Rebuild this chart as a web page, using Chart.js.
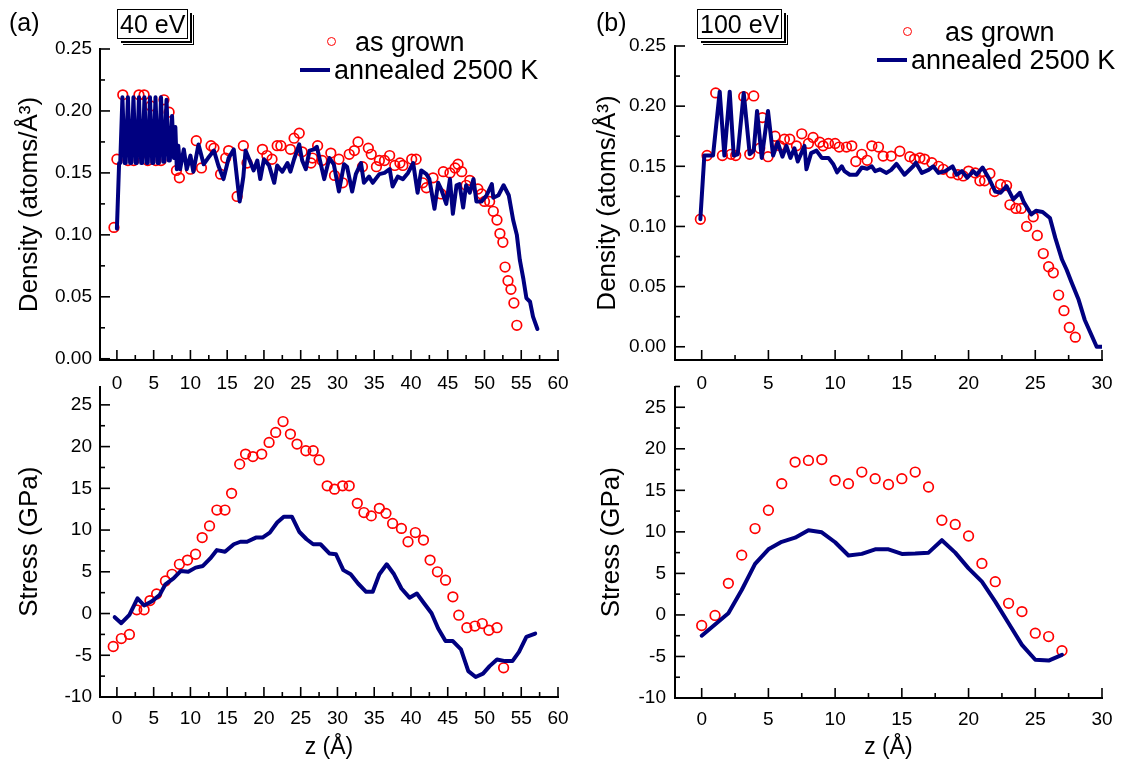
<!DOCTYPE html>
<html><head><meta charset="utf-8">
<script src="https://cdn.jsdelivr.net/npm/chart.js@4.4.1/dist/chart.umd.min.js"></script>
<style>
body{margin:0;background:#fff;width:1125px;height:766px;position:relative;overflow:hidden;font-family:"Liberation Sans",Arial,sans-serif;color:#000;}
canvas{position:absolute;}
.t{position:absolute;white-space:nowrap;line-height:1;}
.box{position:absolute;border:1.5px solid #000;background:#fff;font-size:25px;line-height:28px;padding:0 2px;box-shadow:2px 2px 0 #fff,4px 4px 0 #000,5px 5px 0 #fff,6px 6px 0 #000;}
.circ{position:absolute;width:7px;height:7px;border:1.7px solid #ff0000;border-radius:50%;}
.ln{position:absolute;height:4px;background:#000080;}
</style></head><body>
<canvas id="cA1" width="590" height="395" style="left:0;top:0"></canvas>
<canvas id="cA2" width="590" height="386" style="left:0;top:380px"></canvas>
<canvas id="cB1" width="545" height="395" style="left:580px;top:0"></canvas>
<canvas id="cB2" width="545" height="386" style="left:580px;top:380px"></canvas>

<div class="t" style="left:9px;top:10px;font-size:25px">(a)</div>
<div class="box" style="left:117px;top:9px">40 eV</div>
<div class="circ" style="left:327px;top:37px"></div>
<div class="t" style="left:355px;top:29px;font-size:27px">as grown</div>
<div class="ln" style="left:300px;top:68px;width:30px"></div>
<div class="t" style="left:334px;top:57px;font-size:27px">annealed 2500 K</div>

<div class="t" style="left:596px;top:10px;font-size:25px">(b)</div>
<div class="box" style="left:697px;top:9px">100 eV</div>
<div class="circ" style="left:903px;top:27px"></div>
<div class="t" style="left:945px;top:19px;font-size:27px">as grown</div>
<div class="ln" style="left:877px;top:58px;width:30px"></div>
<div class="t" style="left:911px;top:47px;font-size:27px">annealed 2500 K</div>

<script>
// ---------- tick labels ----------
const xTicksA = [0,5,10,15,20,25,30,35,40,45,50,55,60];
const xTicksB = [0,5,10,15,20,25,30];
const densTicks = [0,0.05,0.10,0.15,0.20,0.25];
const stressTicks = [-10,-5,0,5,10,15,20,25];

// ---------- (a) 40 eV density ----------
const aDensGrownZ = [-0.4,0.0,0.8,1.5,2.3,3.0,3.7,4.2,4.6,5.3,6.0,6.4,7.1,8.1,8.5,10.0,10.8,11.5,12.8,13.2,14.1,14.8,15.2,16.35,17.2,17.7,19.8,20.4,21.1,21.8,22.3,23.6,24.1,24.8,25.2,26.4,26.6,27.3,27.9,29.1,29.6,30.2,30.7,31.6,32.3,32.8,33.4,34.2,34.6,35.3,35.7,36.4,37.1,37.8,38.5,38.9,40.1,40.7,41.6,42.1,43.0,44.1,44.4,45.3,46.0,46.4,46.9,47.5,48.0,49.1,49.6,50.0,50.7,51.2,51.7,52.1,52.5,52.8,53.2,53.6,54.0,54.4];
const aDensGrown = [0.106,0.161,0.213,0.160,0.160,0.213,0.213,0.160,0.204,0.160,0.160,0.209,0.199,0.152,0.146,0.153,0.176,0.154,0.172,0.170,0.149,0.162,0.168,0.131,0.172,0.158,0.169,0.164,0.161,0.172,0.172,0.169,0.178,0.182,0.167,0.158,0.162,0.172,0.160,0.166,0.148,0.161,0.142,0.165,0.168,0.175,0.155,0.170,0.165,0.155,0.160,0.160,0.164,0.156,0.158,0.156,0.161,0.161,0.142,0.138,0.146,0.133,0.151,0.150,0.154,0.157,0.151,0.140,0.144,0.137,0.133,0.127,0.127,0.119,0.112,0.101,0.094,0.074,0.063,0.056,0.045,0.027];
const aDensAnnZ = [0,0.3,0.45,0.75,1.05,1.2,1.5,1.8,1.95,2.25,2.55,2.7,3.0,3.3,3.45,3.75,4.05,4.2,4.5,4.8,4.95,5.25,5.55,5.7,6.0,6.3,6.45,6.75,7.05,7.2,7.5,7.75,7.95,8.15,8.35,8.6,9.1,9.5,10.0,10.4,11.1,11.8,12.4,13.2,13.8,14.5,15.2,15.9,16.35,16.7,17.2,17.5,18.2,18.6,19.1,19.5,20.0,20.7,21.4,21.8,22.5,23.2,23.6,24.1,24.8,25.2,25.7,26.2,26.8,27.2,28.2,28.9,29.5,30.2,30.9,31.3,32.0,32.5,33.2,33.6,34.3,34.8,35.7,36.4,37.1,37.5,38.2,38.9,39.6,40.3,40.9,41.4,42.1,42.5,43.2,43.7,44.1,44.8,45.3,45.7,46.2,46.6,47.1,47.5,48.0,48.5,48.9,49.6,50.3,51.0,51.2,51.9,52.6,53.3,53.9,54.4,54.8,55.3,55.7,56.2,56.6,57.2];
const aDensAnn = [0.105,0.158,0.158,0.211,0.158,0.158,0.211,0.158,0.158,0.211,0.158,0.158,0.211,0.158,0.158,0.211,0.158,0.158,0.211,0.158,0.158,0.211,0.158,0.158,0.211,0.159,0.159,0.209,0.160,0.160,0.196,0.162,0.187,0.153,0.172,0.153,0.169,0.153,0.164,0.151,0.173,0.157,0.162,0.168,0.156,0.145,0.162,0.169,0.145,0.127,0.147,0.168,0.158,0.152,0.160,0.145,0.161,0.156,0.142,0.156,0.151,0.158,0.151,0.161,0.173,0.160,0.153,0.168,0.169,0.171,0.145,0.162,0.157,0.135,0.157,0.155,0.135,0.149,0.158,0.142,0.147,0.142,0.149,0.150,0.153,0.139,0.147,0.145,0.150,0.158,0.134,0.152,0.149,0.145,0.121,0.142,0.137,0.125,0.145,0.117,0.140,0.141,0.122,0.140,0.134,0.145,0.127,0.127,0.132,0.141,0.130,0.132,0.140,0.132,0.112,0.100,0.080,0.064,0.049,0.046,0.034,0.024];

// ---------- (a) 40 eV stress ----------
const aStressGrownZ = [-0.5,0.6,1.7,2.7,3.7,4.5,5.4,6.6,7.5,8.5,9.6,10.7,11.6,12.6,13.6,14.7,15.6,16.7,17.5,18.5,19.7,20.7,21.6,22.6,23.6,24.5,25.7,26.7,27.5,28.6,29.6,30.7,31.6,32.7,33.6,34.6,35.7,36.6,37.5,38.7,39.6,40.6,41.7,42.6,43.6,44.7,45.7,46.5,47.6,48.7,49.7,50.6,51.7,52.6];
const aStressGrown = [-3.95,-3.0,-2.5,0.44,0.44,1.55,2.35,3.9,4.7,5.9,6.4,7.1,9.1,10.5,12.4,12.4,14.4,17.9,19.1,18.8,19.1,20.5,21.7,23.0,21.5,20.3,19.5,19.5,18.4,15.3,14.9,15.3,15.3,13.2,12.1,11.7,12.6,12.0,10.8,10.2,8.6,9.7,8.8,6.4,5.0,4.0,2.0,-0.2,-1.7,-1.5,-1.2,-2.0,-1.7,-6.5];
const aStressAnnZ = [-0.3,0.6,1.7,2.8,3.7,4.7,5.8,6.6,7.7,8.7,9.7,10.7,11.7,12.7,13.6,14.7,15.9,16.8,17.7,18.9,19.8,20.8,21.8,22.7,23.8,24.8,25.8,26.7,27.7,28.9,29.8,30.8,31.8,32.8,33.9,34.8,35.7,36.7,37.7,38.7,39.8,40.8,41.8,42.8,43.7,44.7,45.7,46.8,47.8,48.8,49.8,50.7,51.7,52.8,53.8,54.7,55.7,56.9];
const aStressAnn = [-0.44,-1.16,-0.16,1.83,0.96,1.43,2.2,3.5,4.2,5.1,5.0,5.5,5.7,6.6,7.6,7.4,8.3,8.6,8.6,9.1,9.1,9.7,10.9,11.6,11.6,9.8,8.9,8.3,8.3,7.2,7.1,5.2,4.7,3.6,2.6,2.6,4.7,5.9,4.7,3.0,1.9,2.4,1.2,0.04,-1.8,-3.3,-3.3,-4.3,-6.9,-7.6,-7.2,-6.3,-5.5,-5.7,-5.7,-4.6,-2.8,-2.4];

// ---------- (b) 100 eV density ----------
const bDensGrownZ = [-0.1,0.4,1.05,1.55,2.2,2.55,3.15,3.6,3.9,4.35,4.55,4.97,5.5,5.85,6.2,6.6,7.1,7.5,8.0,8.35,8.85,9.1,9.5,10.0,10.3,10.85,11.25,11.55,12.0,12.4,12.75,13.25,13.6,14.2,14.85,15.6,15.95,16.35,16.7,17.25,17.75,18.1,18.7,19.2,19.6,20.0,20.5,20.85,21.2,21.6,21.95,22.4,22.85,23.1,23.55,23.95,24.35,24.85,25.15,25.6,26.0,26.35,26.75,27.15,27.55,28.0];
const bDensGrown = [0.106,0.159,0.211,0.159,0.160,0.159,0.208,0.160,0.2085,0.165,0.1905,0.158,0.175,0.167,0.1725,0.1725,0.167,0.177,0.169,0.174,0.170,0.167,0.169,0.169,0.166,0.166,0.167,0.154,0.160,0.155,0.167,0.166,0.1585,0.1585,0.1625,0.158,0.156,0.157,0.156,0.153,0.150,0.1475,0.1445,0.143,0.142,0.146,0.1445,0.138,0.138,0.144,0.129,0.135,0.134,0.118,0.115,0.115,0.100,0.108,0.0925,0.0775,0.0665,0.0615,0.043,0.030,0.016,0.008];
const bDensAnnZ = [-0.1,0.2,0.85,1.35,1.7,2.1,2.4,2.7,3.15,3.6,3.9,4.15,4.5,4.97,5.35,5.7,6.05,6.35,6.65,6.95,7.2,7.7,7.85,8.2,8.6,9.0,9.5,9.85,10.15,10.5,10.7,11.1,11.6,12.0,12.4,12.75,13.0,13.35,13.85,14.2,14.6,15.2,15.85,16.05,16.5,17.0,17.35,17.75,18.25,18.8,19.1,19.5,19.9,20.35,20.6,21.05,21.5,22.0,22.4,22.85,23.35,23.85,24.15,24.7,25.05,25.55,26.1,26.5,27.0,27.35,27.7,28.25,28.7,29.2,29.6,30.0];
const bDensAnn = [0.106,0.159,0.159,0.212,0.159,0.212,0.159,0.160,0.211,0.160,0.163,0.196,0.157,0.196,0.159,0.170,0.158,0.167,0.157,0.165,0.154,0.167,0.1475,0.161,0.163,0.157,0.157,0.152,0.145,0.150,0.146,0.143,0.143,0.149,0.148,0.150,0.146,0.1475,0.1445,0.147,0.152,0.143,0.150,0.153,0.1445,0.147,0.150,0.1445,0.146,0.150,0.143,0.146,0.1405,0.146,0.143,0.149,0.1405,0.129,0.128,0.1335,0.1225,0.128,0.120,0.110,0.113,0.112,0.107,0.0905,0.0725,0.064,0.054,0.039,0.0225,0.010,0.0,0.0];

// ---------- (b) 100 eV stress ----------
const bStressZ = [0,1,2,3,4,5,6,7,8,9,10,11,12,13,14,15,16,17,18,19,20,21,22,23,24,25,26,27];
const bStressGrown = [-1.27,-0.06,3.8,7.2,10.4,12.6,15.8,18.4,18.6,18.7,16.2,15.8,17.2,16.4,15.7,16.4,17.2,15.4,11.4,10.9,9.5,6.2,4.0,1.4,0.4,-2.2,-2.6,-4.3];
const bStressAnn = [-2.5,-1.15,0.2,3.0,6.15,7.9,8.8,9.3,10.2,9.95,8.75,7.15,7.35,7.9,7.9,7.35,7.4,7.5,9.0,7.5,5.6,4.0,1.6,-1.0,-3.6,-5.4,-5.5,-4.8];

const FONT = '"Liberation Sans", Arial, sans-serif';
const pts = (zs, vs) => zs.map((z, i) => ({x: z, y: vs[i]}));

const inwardTicks = {
  id: 'inwardTicks',
  afterDatasetsDraw(chart, args, o) {
    const {ctx, chartArea: {left, bottom}, scales: {x, y}} = chart;
    ctx.save();
    ctx.strokeStyle = '#000'; ctx.lineWidth = 1.6;
    const seg = (a, b, c, d) => { ctx.beginPath(); ctx.moveTo(a, b); ctx.lineTo(c, d); ctx.stroke(); };
    for (let k = Math.ceil(x.min / o.xMinor); k * o.xMinor <= x.max + 1e-9; k++) {
      const p = x.getPixelForValue(k * o.xMinor);
      seg(p, bottom, p, bottom - (k % 2 === 0 ? 10 : 5));
    }
    for (let k = Math.ceil(y.min / o.yMinor - 1e-9); k * o.yMinor <= y.max + 1e-9; k++) {
      const p = y.getPixelForValue(k * o.yMinor);
      seg(left, p, left + (k % 2 === 0 ? 10 : 5), p);
    }
    ctx.restore();
  }
};

function panel(id, c) {
  const cv = document.getElementById(id);
  const W = cv.width, H = cv.height;
  new Chart(cv, {
    type: 'scatter',
    data: {datasets: [
      {data: c.ann, showLine: true, borderColor: '#000080', borderWidth: 4, pointRadius: 0, tension: 0, order: 0, borderJoinStyle: 'round', borderCapStyle: 'round'},
      {data: c.grown, showLine: false, borderColor: '#ff0000', backgroundColor: 'rgba(0,0,0,0)', pointRadius: 4.8, pointBorderWidth: 1.7, order: 1}
    ]},
    plugins: [inwardTicks],
    options: {
      responsive: false, animation: false, devicePixelRatio: 1,
      layout: {padding: {left: 0, top: c.area.t, right: W - c.area.r, bottom: 0}},
      plugins: {legend: {display: false}, tooltip: {enabled: false}, inwardTicks: {xMinor: 2.5, yMinor: c.yMinor}},
      scales: {
        x: {
          type: 'linear', min: c.xr[0], max: c.xr[1],
          afterBuildTicks: s => { s.ticks = c.xTicks.map(v => ({value: v})); },
          afterFit: s => { s.height = H - c.area.b; s.paddingLeft = 0; s.paddingRight = 0; },
          ticks: {font: {family: FONT, size: 19}, color: '#000', padding: c.xPad, maxRotation: 0, autoSkip: false},
          grid: {display: true, drawOnChartArea: false, drawTicks: false},
          border: {display: true, color: '#000', width: 2},
          title: {display: !!c.xTitle, text: c.xTitle || '', font: {family: FONT, size: 23}, color: '#000', padding: {top: 0, bottom: 5}}
        },
        y: {
          type: 'linear', min: c.yr[0], max: c.yr[1],
          afterBuildTicks: s => { s.ticks = c.yTicks.map(v => ({value: v})); },
          afterFit: s => { s.width = c.area.l; s.paddingTop = 0; s.paddingBottom = 0; },
          ticks: {font: {family: FONT, size: 19}, color: '#000', padding: c.yPad, autoSkip: false, callback: c.yFmt},
          grid: {display: true, drawOnChartArea: false, drawTicks: false},
          border: {display: true, color: '#000', width: 2},
          title: {display: true, text: c.yTitle, font: {family: FONT, size: 26}, color: '#000', padding: {top: c.yTitlePad, bottom: 0}}
        }
      }
    }
  });
}

const fmt2 = v => v.toFixed(2);
const fmt0 = v => String(v);

panel('cA1', {area: {l: 100, t: 49, r: 558, b: 360}, xr: [-2.3, 60], yr: [-0.001, 0.25], xTicks: xTicksA, yTicks: densTicks, yFmt: fmt2, yMinor: 0.025, yPad: 8, xPad: 12,
  yTitle: 'Density (atoms/Å³)', yTitlePad: 14, grown: pts(aDensGrownZ, aDensGrown), ann: pts(aDensAnnZ, aDensAnn)});
panel('cA2', {area: {l: 100, t: 5, r: 558, b: 317}, xr: [-2.3, 60], yr: [-10, 27.2], xTicks: xTicksA, yTicks: stressTicks, yFmt: fmt0, yMinor: 2.5, yPad: 8, xPad: 10,
  yTitle: 'Stress (GPa)', yTitlePad: 14, xTitle: 'z (Å)', grown: pts(aStressGrownZ, aStressGrown), ann: pts(aStressAnnZ, aStressAnn)});
panel('cB1', {area: {l: 95, t: 46, r: 522, b: 360}, xr: [-2.0, 30], yr: [-0.011, 0.25], xTicks: xTicksB, yTicks: densTicks, yFmt: fmt2, yMinor: 0.025, yPad: 9, xPad: 12,
  yTitle: 'Density (atoms/Å³)', yTitlePad: 12, grown: pts(bDensGrownZ, bDensGrown), ann: pts(bDensAnnZ, bDensAnn)});
panel('cB2', {area: {l: 95, t: 5, r: 522, b: 318}, xr: [-2.0, 30], yr: [-10, 27.5], xTicks: xTicksB, yTicks: stressTicks, yFmt: fmt0, yMinor: 2.5, yPad: 9, xPad: 10,
  yTitle: 'Stress (GPa)', yTitlePad: 16, xTitle: 'z (Å)', grown: pts(bStressZ, bStressGrown), ann: pts(bStressZ, bStressAnn)});
</script>
</body></html>
